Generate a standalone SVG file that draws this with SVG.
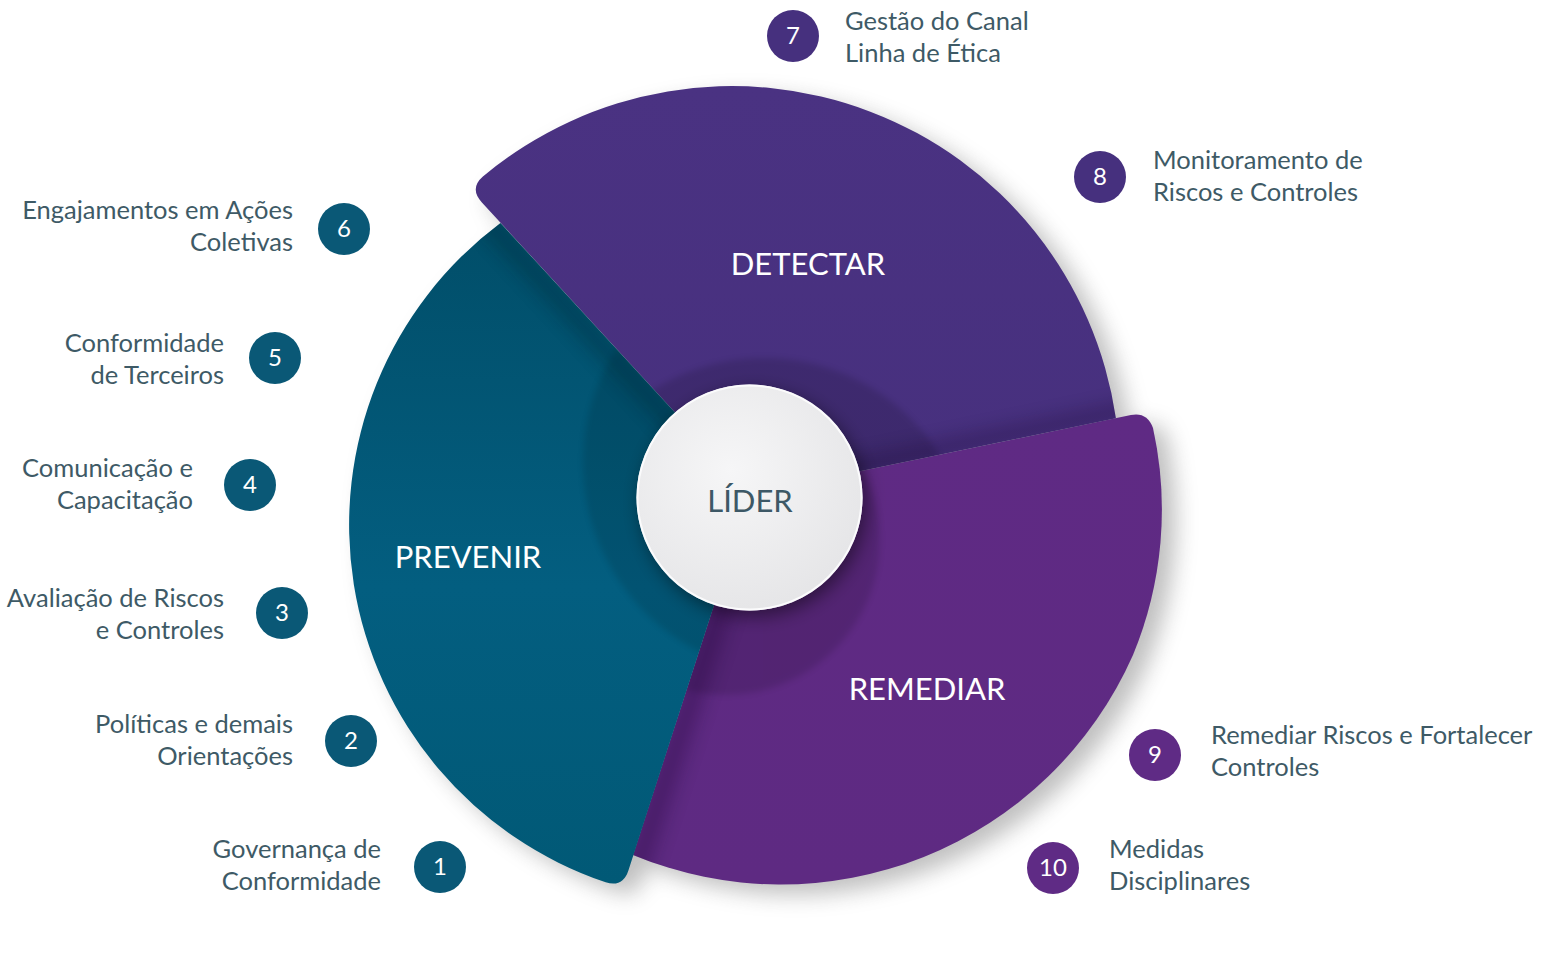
<svg xmlns="http://www.w3.org/2000/svg" width="1564" height="962" viewBox="0 0 1564 962">
<defs>
<style>
.lbl{font-family:Lato,"Open Sans","Liberation Sans",sans-serif;font-size:25.5px;fill:#3e5a66}
.end{text-anchor:end}
.num{font-family:Lato,"Open Sans","Liberation Sans",sans-serif;font-size:24px;fill:#ffffff;text-anchor:middle}
.seg{font-family:Lato,"Open Sans","Liberation Sans",sans-serif;font-size:31px;fill:#ffffff;text-anchor:middle}
.lider{font-family:Lato,"Open Sans","Liberation Sans",sans-serif;font-size:31px;fill:#3d5866;text-anchor:middle}
.b-teal{fill:#0a5876}
.b-indigo{fill:#46307e}
.b-violet{fill:#5f2b85}
</style>
<path id="pPrev" d="M750,494 L628.4,870.5 Q622.8,887.7 605.7,882.3 A377,377 0 0 1 500.5,223 Z"/>
<path id="pDet" d="M750,494 L481.9,202.5 Q469.1,188.6 482.9,176.6 A388,388 0 0 1 1115.9,418.2 Z"/>
<path id="pRem" d="M750,494 L1130.9,415.1 Q1147,411.8 1153,428 A380,380 0 0 1 1133,655 A385,385 0 0 1 633,855 Z"/>
<clipPath id="cPrev"><use href="#pPrev"/></clipPath>
<clipPath id="cDet"><use href="#pDet"/></clipPath>
<clipPath id="cRem"><use href="#pRem"/></clipPath>
<linearGradient id="gPrev" x1="0" y1="0" x2="0" y2="1">
<stop offset="0" stop-color="#014e69"/>
<stop offset="0.55" stop-color="#035e80"/>
<stop offset="1" stop-color="#015976"/>
</linearGradient>
<linearGradient id="gDet" x1="0" y1="0" x2="0" y2="1">
<stop offset="0" stop-color="#4a3282"/>
<stop offset="1" stop-color="#47307e"/>
</linearGradient>
<linearGradient id="gRem" x1="0" y1="0" x2="0" y2="1">
<stop offset="0" stop-color="#5f2a84"/>
<stop offset="1" stop-color="#5e2a82"/>
</linearGradient>
<radialGradient id="gLider" cx="0.42" cy="0.38" r="0.7">
<stop offset="0" stop-color="#f6f6f7"/>
<stop offset="1" stop-color="#e4e4e6"/>
</radialGradient>
<filter id="fShadow" x="-20%" y="-20%" width="140%" height="140%"><feGaussianBlur stdDeviation="11"/></filter>
<filter id="fEdge" x="-50%" y="-50%" width="200%" height="200%"><feGaussianBlur stdDeviation="9"/></filter>
<filter id="fSoft" x="-20%" y="-20%" width="140%" height="140%"><feGaussianBlur stdDeviation="3"/></filter>
<filter id="fLider" x="-40%" y="-40%" width="180%" height="180%"><feDropShadow dx="4" dy="6" stdDeviation="9" flood-color="#000000" flood-opacity="0.45"/></filter>
</defs>
<rect width="1564" height="962" fill="#ffffff"/>

<g id="outer-shadow" filter="url(#fShadow)" opacity="0.38" fill="#5a5a5a" transform="translate(14,10)">
<use href="#pPrev"/><use href="#pDet"/><use href="#pRem"/>
</g>

<g id="seg-remediar">
<use href="#pRem" fill="url(#gRem)"/>
<g clip-path="url(#cRem)">
<circle cx="725" cy="540" r="155" fill="#000" opacity="0.12" filter="url(#fSoft)"/>
<line x1="750" y1="494" x2="621" y2="894" stroke="#1a0030" stroke-width="22" opacity="0.32" filter="url(#fEdge)" transform="translate(7,2)"/>
</g>
<text class="seg" x="927" y="700">REMEDIAR</text>
</g>

<g id="seg-detectar">
<use href="#pDet" fill="url(#gDet)"/>
<g clip-path="url(#cDet)">
<circle cx="764" cy="566" r="208" fill="#000" opacity="0.13" filter="url(#fSoft)"/>
<line x1="750" y1="494" x2="1161" y2="409" stroke="#120028" stroke-width="16" opacity="0.28" filter="url(#fEdge)" transform="translate(-1,-6)"/>
</g>
<text class="seg" x="808" y="275">DETECTAR</text>
</g>

<g id="seg-prevenir">
<use href="#pPrev" fill="url(#gPrev)"/>
<g clip-path="url(#cPrev)">
<circle cx="794" cy="463" r="211" fill="#000" opacity="0.11" filter="url(#fSoft)"/>
<line x1="750" y1="494" x2="460" y2="179" stroke="#001a28" stroke-width="20" opacity="0.28" filter="url(#fEdge)" transform="translate(-6,6)"/>
</g>
<text class="seg" x="468" y="568">PREVENIR</text>
</g>

<g id="node-lider">
<circle cx="749.5" cy="497.5" r="113" fill="url(#gLider)" filter="url(#fLider)"/>
<circle cx="749.5" cy="497.5" r="112" fill="none" stroke="#fbfbfc" stroke-width="2"/>
<text class="lider" x="750" y="512">LÍDER</text>
</g>

<g id="connectors"></g>

<g id="item-1"><circle class="b-teal" cx="440" cy="867" r="26"/><text class="num" x="440" y="875">1</text>
<text class="lbl end" x="381" y="858">Governança de</text><text class="lbl end" x="381" y="890">Conformidade</text></g>
<g id="item-2"><circle class="b-teal" cx="351" cy="741" r="26"/><text class="num" x="351" y="749">2</text>
<text class="lbl end" x="293" y="733">Políticas e demais</text><text class="lbl end" x="293" y="765">Orientações</text></g>
<g id="item-3"><circle class="b-teal" cx="282" cy="613" r="26"/><text class="num" x="282" y="621">3</text>
<text class="lbl end" x="224" y="607">Avaliação de Riscos</text><text class="lbl end" x="224" y="639">e Controles</text></g>
<g id="item-4"><circle class="b-teal" cx="250" cy="485" r="26"/><text class="num" x="250" y="493">4</text>
<text class="lbl end" x="193" y="477">Comunicação e</text><text class="lbl end" x="193" y="509">Capacitação</text></g>
<g id="item-5"><circle class="b-teal" cx="275" cy="358" r="26"/><text class="num" x="275" y="366">5</text>
<text class="lbl end" x="224" y="352">Conformidade</text><text class="lbl end" x="224" y="384">de Terceiros</text></g>
<g id="item-6"><circle class="b-teal" cx="344" cy="229" r="26"/><text class="num" x="344" y="237">6</text>
<text class="lbl end" x="293" y="219">Engajamentos em Ações</text><text class="lbl end" x="293" y="251">Coletivas</text></g>
<g id="item-7"><circle class="b-indigo" cx="793" cy="36" r="26"/><text class="num" x="793" y="44">7</text>
<text class="lbl" x="845" y="30">Gestão do Canal</text><text class="lbl" x="845" y="62">Linha de Ética</text></g>
<g id="item-8"><circle class="b-indigo" cx="1100" cy="177" r="26"/><text class="num" x="1100" y="185">8</text>
<text class="lbl" x="1153" y="169">Monitoramento de</text><text class="lbl" x="1153" y="201">Riscos e Controles</text></g>
<g id="item-9"><circle class="b-violet" cx="1155" cy="755" r="26"/><text class="num" x="1155" y="763">9</text>
<text class="lbl" x="1211" y="744">Remediar Riscos e Fortalecer</text><text class="lbl" x="1211" y="776">Controles</text></g>
<g id="item-10"><circle class="b-violet" cx="1053" cy="868" r="26"/><text class="num" x="1053" y="876">10</text>
<text class="lbl" x="1109" y="858">Medidas</text><text class="lbl" x="1109" y="890">Disciplinares</text></g>
</svg>
